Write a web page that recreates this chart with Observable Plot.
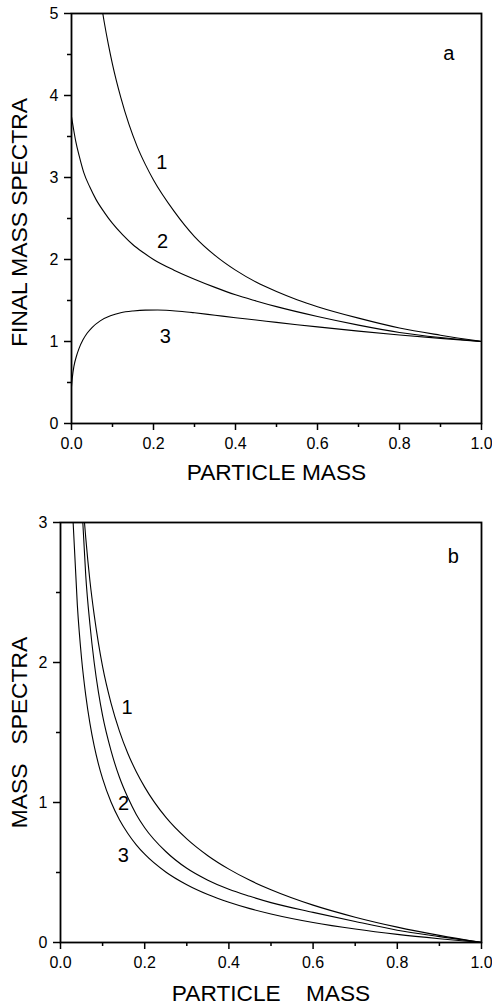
<!DOCTYPE html>
<html><head><meta charset="utf-8">
<script src="https://cdn.jsdelivr.net/npm/d3@7"></script>
<script src="https://cdn.jsdelivr.net/npm/@observablehq/plot@0.6"></script>
<style>
body{margin:0;background:#fff;}
#chart svg{display:block;}
</style></head><body><div id="chart"></div>
<script>
// ticks
const xTicks = [0, 0.2, 0.4, 0.6, 0.8, 1.0];
const xMinor = [0.1, 0.3, 0.5, 0.7, 0.9];
const yTicksA = [0, 1, 2, 3, 4, 5];
const yMinorA = [0.5, 1.5, 2.5, 3.5, 4.5];
const yTicksB = [0, 1, 2, 3];
const yMinorB = [0.5, 1.5, 2.5];

// panel a: final mass spectra
const a1x = [0.07, 0.08, 0.09, 0.10, 0.12, 0.14, 0.16, 0.18, 0.20, 0.25, 0.30, 0.35, 0.40, 0.45, 0.50, 0.55, 0.60, 0.70, 0.80, 0.90, 1.00];
const a1y = [5.20, 4.89, 4.62, 4.38, 3.98, 3.65, 3.38, 3.16, 2.97, 2.59, 2.28, 2.05, 1.87, 1.725, 1.61, 1.51, 1.425, 1.285, 1.165, 1.077, 1.00];
const a2x = [0, 0.005, 0.01, 0.02, 0.03, 0.045, 0.06, 0.08, 0.10, 0.125, 0.15, 0.175, 0.20, 0.25, 0.30, 0.35, 0.40, 0.45, 0.50, 0.60, 0.70, 0.80, 0.90, 1.00];
const a2y = [3.74, 3.59, 3.45, 3.24, 3.06, 2.88, 2.73, 2.575, 2.44, 2.30, 2.18, 2.085, 2.00, 1.87, 1.76, 1.66, 1.57, 1.495, 1.425, 1.305, 1.20, 1.11, 1.048, 1.00];
const a3x = [0, 0.002, 0.006, 0.012, 0.018, 0.028, 0.038, 0.05, 0.07, 0.095, 0.12, 0.15, 0.18, 0.21, 0.24, 0.27, 0.30, 0.35, 0.40, 0.45, 0.50, 0.55, 0.60, 0.70, 0.80, 0.90, 1.00];
const a3y = [0.45, 0.56, 0.70, 0.82, 0.91, 1.02, 1.10, 1.17, 1.252, 1.313, 1.35, 1.372, 1.383, 1.384, 1.378, 1.366, 1.35, 1.32, 1.29, 1.262, 1.233, 1.205, 1.178, 1.127, 1.08, 1.038, 1.00];

// panel b: mass spectra
const b1x = [0.057, 0.06, 0.07, 0.08, 0.09, 0.10, 0.12, 0.14, 0.16, 0.18, 0.20, 0.25, 0.30, 0.35, 0.40, 0.45, 0.50, 0.60, 0.70, 0.80, 0.90, 1.00];
const b1y = [3.00, 2.89, 2.58, 2.34, 2.14, 1.97, 1.71, 1.51, 1.35, 1.22, 1.11, 0.895, 0.74, 0.62, 0.524, 0.444, 0.377, 0.267, 0.181, 0.110, 0.051, 0.0];
const b2x = [0.053, 0.06, 0.07, 0.08, 0.09, 0.10, 0.12, 0.14, 0.16, 0.18, 0.20, 0.25, 0.30, 0.35, 0.40, 0.45, 0.50, 0.60, 0.70, 0.80, 0.90, 1.00];
const b2y = [3.0, 2.62, 2.27, 2.0, 1.79, 1.62, 1.37, 1.18, 1.035, 0.915, 0.82, 0.65, 0.53, 0.445, 0.38, 0.33, 0.285, 0.215, 0.15, 0.088, 0.042, 0.0];
const b3x = [0.030, 0.040, 0.050, 0.060, 0.070, 0.080, 0.090, 0.100, 0.120, 0.140, 0.160, 0.180, 0.200, 0.250, 0.300, 0.350, 0.400, 0.450, 0.500, 0.600, 0.700, 0.800, 0.900, 1.000];
const b3y = [3.00, 2.41, 2.03, 1.765, 1.563, 1.404, 1.276, 1.17, 1.003, 0.877, 0.779, 0.698, 0.631, 0.504, 0.413, 0.343, 0.2875, 0.242, 0.204, 0.143, 0.096, 0.058, 0.027, 0.0];

// curve labels
const labelsA = ["1", "2", "3", "a"];
const labelsAx = [0.22, 0.222, 0.229, 0.92];
const labelsAy = [3.18, 2.22, 1.06, 4.51];
const labelsB = ["1", "2", "3", "b"];
const labelsBx = [0.158, 0.150, 0.149, 0.933];
const labelsBy = [1.68, 0.99, 0.62, 2.76];

const titleXA = "PARTICLE MASS";
const titleYA = "FINAL MASS SPECTRA";
const titleXB = "PARTICLE\u00a0\u00a0\u00a0\u00a0MASS";
const titleYB = "MASS\u00a0\u00a0\u00a0SPECTRA";

const font = "'Liberation Sans', Arial, Helvetica, sans-serif";

function series(xs, ys, s) { return xs.map((x, i) => ({x, y: ys[i], s})); }
function labels(t, xs, ys) { return t.map((text, i) => ({text, x: xs[i], y: ys[i]})); }

function panel(opts) {
  const data = opts.curves.flatMap(([xs, ys], i) => series(xs, ys, i + 1));
  return Plot.plot({
    width: 492,
    height: opts.height,
    marginTop: opts.mt,
    marginBottom: opts.mb,
    marginLeft: opts.ml,
    marginRight: 11,
    x: {domain: [0, 1], label: null},
    y: {domain: opts.ydomain, label: null},
    style: {fontFamily: font, color: "black", background: "white"},
    marks: [
      Plot.axisX({ticks: xTicks, tickSize: 7, tickPadding: 7, tickFormat: d => d.toFixed(1), fontSize: 16, strokeWidth: 1.5, label: null}),
      Plot.axisX({ticks: xMinor, tickSize: 4, tickFormat: () => "", strokeWidth: 1.5, label: null}),
      Plot.axisY({ticks: opts.yticks, tickSize: 7, tickPadding: 6, tickFormat: d => String(d), fontSize: 16, strokeWidth: 1.5, label: null}),
      Plot.axisY({ticks: opts.yminor, tickSize: 4, tickFormat: () => "", strokeWidth: 1.5, label: null}),
      Plot.line(data, {x: "x", y: "y", z: "s", curve: "monotone-x", stroke: "black", strokeWidth: 1.1, clip: true}),
      Plot.frame({stroke: "black", strokeWidth: 1.8}),
      Plot.text(opts.labels, {x: "x", y: "y", text: "text", fontSize: 20}),
      Plot.text([opts.titleX], {text: d => d, frameAnchor: "bottom", textAnchor: "middle", dy: opts.xtdy, fontSize: 22.7}),
      Plot.text([opts.titleY], {text: d => d, frameAnchor: "left", textAnchor: "middle", rotate: -90, dx: opts.ytdx, dy: opts.ytdy, fontSize: 22.8})
    ]
  });
}

const panelA = panel({
  height: 500, mt: 13, mb: 77, ml: 71,
  ydomain: [0, 5], yticks: yTicksA, yminor: yMinorA,
  curves: [[a1x, a1y], [a2x, a2y], [a3x, a3y]],
  labels: labels(labelsA, labelsAx, labelsAy),
  titleX: titleXA, titleY: titleYA, ytdx: -52, ytdy: 4, xtdy: 56
});
const panelB = panel({
  height: 508, mt: 22, mb: 66, ml: 60,
  ydomain: [0, 3], yticks: yTicksB, yminor: yMinorB,
  curves: [[b1x, b1y], [b2x, b2y], [b3x, b3y]],
  labels: labels(labelsB, labelsBx, labelsBy),
  titleX: titleXB, titleY: titleYB, ytdx: -41, ytdy: 0, xtdy: 58
});
document.getElementById("chart").append(panelA, panelB);
</script>
</body></html>
